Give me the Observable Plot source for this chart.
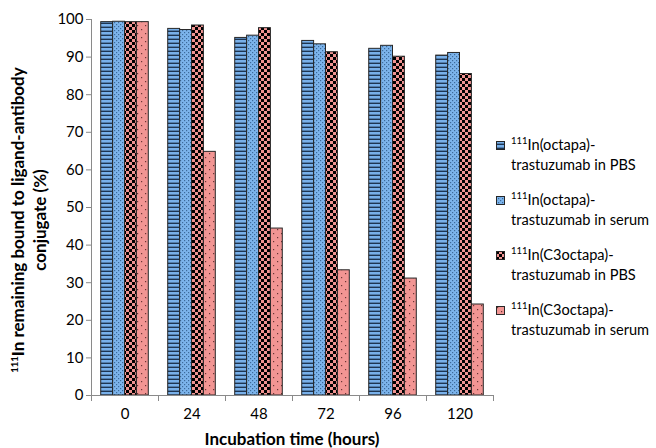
<!DOCTYPE html>
<html><head><meta charset="utf-8">
<script src="https://cdn.jsdelivr.net/npm/d3@7"></script>
<script src="https://cdn.jsdelivr.net/npm/@observablehq/plot@0.6"></script>
<style>
body{margin:0;background:#fff;font-family:Lato,"Open Sans",sans-serif;color:#000;}
#wrap{position:relative;width:656px;height:448px;overflow:hidden;background:#fff;}
#legend{position:absolute;left:496px;top:136px;font-size:14.6px;line-height:18px;}
#legend .item{position:relative;height:55px;padding-left:15px;white-space:nowrap;}
#legend .item svg{position:absolute;left:0;top:5px;}
sup{font-size:9.5px;vertical-align:0;position:relative;top:-6px;}
#ytitle{position:absolute;width:400px;left:-173px;top:201px;height:38px;line-height:19px;text-align:center;font-weight:bold;font-size:17px;transform:rotate(-90deg);transform-origin:50% 50%;white-space:nowrap;}
#xtitle{position:absolute;left:92px;width:400px;top:428px;text-align:center;font-weight:bold;font-size:17px;}
</style></head><body>
<div id="wrap">
<svg width="0" height="0" style="position:absolute">
<defs>
<pattern id="pHs" width="4" height="4" patternUnits="userSpaceOnUse">
<rect width="4" height="4" fill="#78b0ea"/><rect y="2.6" width="4" height="1.4" fill="#1d3552"/>
</pattern>
<pattern id="pDot" width="4" height="4" patternUnits="userSpaceOnUse">
<rect width="4" height="4" fill="#7cb4ec"/><rect x="0" y="0" width="1.2" height="1.2" fill="#3d6a9a"/><rect x="2" y="2" width="1.2" height="1.2" fill="#3d6a9a"/>
</pattern>
<pattern id="pChk" width="6" height="6" patternUnits="userSpaceOnUse">
<rect width="6" height="6" fill="#f09391"/><rect x="0" y="0" width="3" height="3" fill="#000"/><rect x="3" y="3" width="3" height="3" fill="#000"/>
</pattern>
<pattern id="pSp" width="8" height="8" patternUnits="userSpaceOnUse">
<rect width="8" height="8" fill="#f29593"/><rect x="1" y="1" width="1.2" height="1.2" fill="#6a3434"/><rect x="5" y="5" width="1.2" height="1.2" fill="#6a3434"/>
</pattern>
</defs>
</svg>
<div id="chart"></div>
<div id="ytitle"><sup>111</sup>In remaining bound to ligand-antibody<br>conjugate (%)</div>
<div id="xtitle">Incubation time (hours)</div>
<div id="legend"></div>
</div>
<script>
// ---- data ----
const times = ["0", "24", "48", "72", "96", "120"];
const yTicks = [0, 10, 20, 30, 40, 50, 60, 70, 80, 90, 100];
const seriesIsotope = ["111", "111", "111", "111"];
const seriesLine1 = ["In(octapa)-", "In(octapa)-", "In(C3octapa)-", "In(C3octapa)-"];
const seriesLine2 = ["trastuzumab in PBS", "trastuzumab in serum", "trastuzumab in PBS", "trastuzumab in serum"];
const octapaPBS   = [99.3, 97.5, 95.1, 94.3, 92.2, 90.4];
const octapaSerum = [99.4, 97.2, 95.7, 93.4, 93.0, 91.1];
const c3octapaPBS = [99.3, 98.4, 97.7, 91.3, 90.1, 85.5];
const c3octapaSerum = [99.3, 64.8, 44.4, 33.3, 31.1, 24.2];

const seriesValues = [octapaPBS, octapaSerum, c3octapaPBS, c3octapaSerum];
const fills = ["url(#pHs)", "url(#pDot)", "url(#pChk)", "url(#pSp)"];

const W = 656, H = 448, mL = 91, mR = 163, mT = 19, mB = 53;
const step = (W - mL - mR) / times.length;
const outer = step * 0.145;
const barW = (step - 2 * outer) / seriesValues.length;
const axisColor = "#8a8a8a";

const marks = [];
seriesValues.forEach((vals, s) => {
  const rows = times.map((t, i) => ({time: t, value: vals[i]}));
  marks.push(Plot.barY(rows, {
    x: "time", y: "value", fill: fills[s], stroke: "#262626", strokeWidth: 1,
    insetLeft: outer + s * barW, insetRight: outer + (seriesValues.length - 1 - s) * barW
  }));
});
marks.push(Plot.ruleY([0], {stroke: axisColor}));
marks.push(Plot.ruleX([times[0]], {x: d => d, dx: -step / 2, stroke: axisColor}));
marks.push(Plot.ruleX(times, {x: d => d, y1: 0, y2: 0, dx: -step / 2, insetBottom: -6, stroke: axisColor}));
marks.push(Plot.ruleX([times[times.length - 1]], {x: d => d, y1: 0, y2: 0, dx: step / 2, insetBottom: -6, stroke: axisColor}));
marks.push(Plot.axisY({ticks: yTicks, tickSize: 5, tickPadding: 3, stroke: axisColor, fill: "#000", label: null}));
marks.push(Plot.axisX({tickSize: 0, tickPadding: 13, fill: "#000", label: null}));

const chart = Plot.plot({
  width: W, height: H,
  marginLeft: mL, marginRight: mR, marginTop: mT, marginBottom: mB,
  x: {type: "band", domain: times, padding: 0, round: false},
  y: {domain: [0, 100]},
  style: {fontFamily: "Lato, 'Open Sans', sans-serif", fontSize: "15px", color: "#000", background: "transparent"},
  marks
});
document.getElementById("chart").appendChild(chart);

// legend
const leg = document.getElementById("legend");
seriesValues.forEach((_, s) => {
  const item = document.createElement("div");
  item.className = "item";
  item.innerHTML = `<svg width="9" height="9"><rect x="0.5" y="0.5" width="8" height="8" fill="${fills[s]}" stroke="#262626"/></svg>` +
    `<sup>${seriesIsotope[s]}</sup>${seriesLine1[s]}<br>${seriesLine2[s]}`;
  leg.appendChild(item);
});
</script>
</body></html>
